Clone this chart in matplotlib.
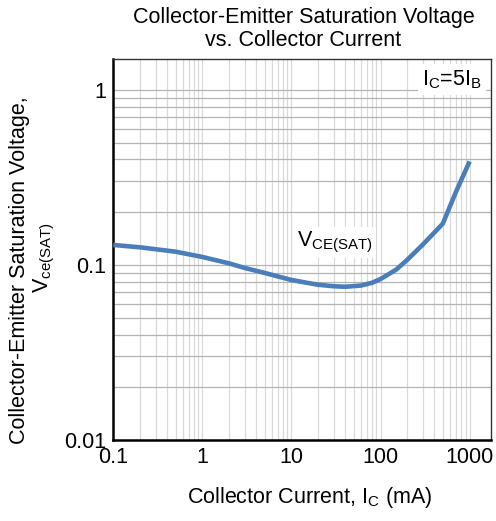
import matplotlib
matplotlib.use("Agg")
import matplotlib.pyplot as plt

# collector current (mA) and saturation voltage (V)
ic_ma = [0.1, 0.2, 0.5, 1, 2, 3, 5, 7, 10, 15, 20, 30, 40, 60, 80, 100,
         150, 200, 300, 500, 700, 1000]
vce_sat = [0.130, 0.126, 0.119, 0.111, 0.102, 0.096, 0.090, 0.086, 0.082,
           0.079, 0.077, 0.0755, 0.075, 0.0762, 0.079, 0.083, 0.094, 0.107,
           0.131, 0.172, 0.26, 0.39]

x_ticks = [0.1, 1, 10, 100, 1000]
x_labels = ["0.1", "1", "10", "100", "1000"]
y_ticks = [0.01, 0.1, 1]
y_labels = ["0.01", "0.1", "1"]

plt.rcParams["font.family"] = ["Liberation Sans", "DejaVu Sans"]
fs = 15.5

fig = plt.figure(figsize=(4.96, 5.21), dpi=100)
ax = fig.add_axes([0.2284, 0.1555, 0.7616, 0.7313])

ax.set_xscale("log")
ax.set_yscale("log")
ax.set_xlim(0.1, 1740)
ax.set_ylim(0.01, 1.5)

# grid: vertical lines light, horizontal lines a bit darker
ax.grid(True, which="both", axis="x", color="#d9d9d9", lw=0.9)
ax.grid(True, which="both", axis="y", color="#b4b4b4", lw=0.9)
ax.set_axisbelow(True)

ax.plot(ic_ma, vce_sat, color="#4a7ebb", lw=3.3, solid_capstyle="butt",
        solid_joinstyle="round", zorder=3)

ax.set_xticks(x_ticks)
ax.set_xticklabels(x_labels)
ax.set_yticks(y_ticks)
ax.set_yticklabels(y_labels)
ax.tick_params(which="both", length=0, labelsize=fs, pad=5)
ax.xaxis.set_minor_formatter(matplotlib.ticker.NullFormatter())
ax.yaxis.set_minor_formatter(matplotlib.ticker.NullFormatter())

for side in ("left", "bottom"):
    ax.spines[side].set_linewidth(1.8)
    ax.spines[side].set_color("black")
for side in ("top", "right"):
    ax.spines[side].set_linewidth(1.0)
    ax.spines[side].set_color("#333333")

ax.text(31, 0.134, r"V$_{\mathregular{CE(SAT)}}$", fontsize=fs, ha="center",
        va="center", zorder=4,
        bbox=dict(facecolor="white", edgecolor="none", pad=2))
ax.text(0.975, 0.975, r"I$_{\mathregular{C}}$=5I$_{\mathregular{B}}$", fontsize=fs,
        ha="right", va="top", transform=ax.transAxes, zorder=4,
        bbox=dict(facecolor="white", edgecolor="none", pad=3))

fig.text(0.612, 0.967, "Collector-Emitter Saturation Voltage", ha="center",
         va="center", fontsize=fs)
fig.text(0.612, 0.922, "vs. Collector Current", ha="center", va="center",
         fontsize=fs)
fig.text(0.625, 0.045, r"Collector Current, I$_{\mathregular{C}}$ (mA)",
         ha="center", va="center", fontsize=fs)
fig.text(0.04, 0.482, "Collector-Emitter Saturation Voltage,", rotation=90,
         ha="center", va="center", fontsize=fs)
fig.text(0.09, 0.505, r"V$_{\mathregular{ce(SAT)}}$", rotation=90,
         ha="center", va="center", fontsize=fs)

fig.savefig("out.png", dpi=100)
